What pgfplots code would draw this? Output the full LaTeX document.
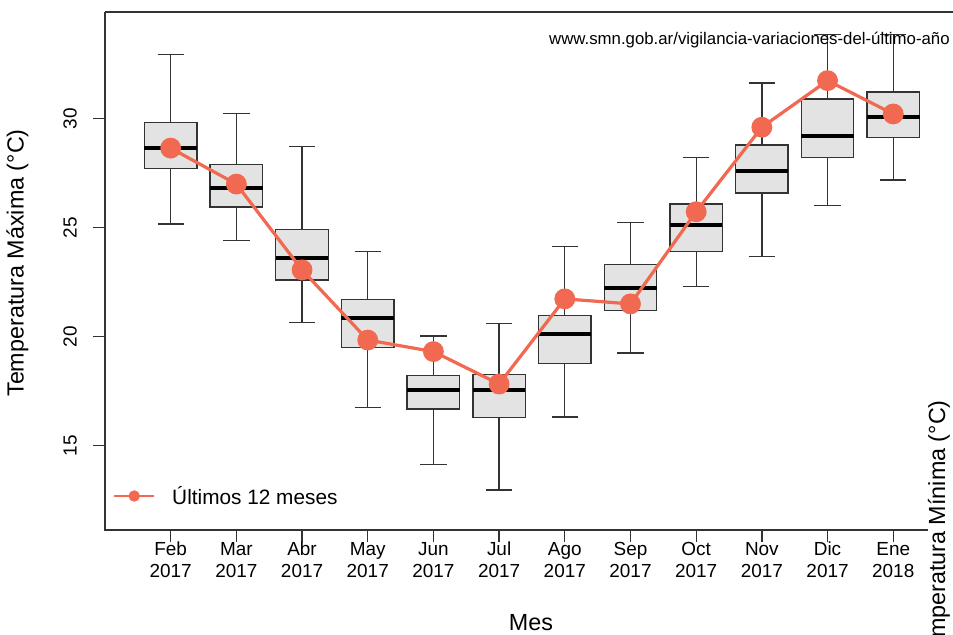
\documentclass[border=0pt]{standalone}
\usepackage{fontspec}
\setmainfont{Liberation Sans}
\usepackage{pgfplots}
\pgfplotsset{compat=1.18}
\usepgfplotslibrary{statistics}

\definecolor{boxfill}{RGB}{227,227,227}
\definecolor{boxline}{RGB}{51,51,51}
\definecolor{ultimo}{RGB}{240,105,80}

\pgfplotsset{
  mes/.style={forget plot, draw=boxline, fill=boxfill, line width=1pt, solid},
}

\begin{document}
\begin{tikzpicture}
\useasboundingbox (0,0) rectangle (714.75pt,476.25pt);
\fill[white] (0,0) rectangle (714.75pt,476.25pt);
\clip (0,0) rectangle (714.75pt,476.25pt);
\begin{axis}[
  at={(78.75pt,78.75pt)}, anchor=south west,
  scale only axis, width=636pt, height=388.5pt,
  xmin=0, xmax=12.91, ymin=11.12, ymax=34.90,
  clip=false,
  boxplot/draw direction=y,
  boxplot/every median/.style={draw=black, line width=3pt},
  boxplot/box extend=0.8, boxplot/whisker extend=0.4,
  separate axis lines, axis line style={draw=none},
  tick pos=left, tick align=outside, major tick length=9pt,
  tick style={boxline, line width=1pt},
  xtick={1,...,12},
  xticklabels={{Feb\\2017},{Mar\\2017},{Abr\\2017},{May\\2017},{Jun\\2017},{Jul\\2017},
    {Ago\\2017},{Sep\\2017},{Oct\\2017},{Nov\\2017},{Dic\\2017},{Ene\\2018}},
  xticklabel style={align=center, anchor=north, inner sep=0pt,
    font=\fontsize{14.2pt}{16.5pt}\selectfont},
  ytick={15,20,25,30},
  yticklabel style={rotate=90, anchor=south, inner sep=0pt, inner ysep=12pt,
    font=\fontsize{14.2pt}{16.5pt}\selectfont},
  /pgf/number format/assume math mode=true,
  legend style={at={(rel axis cs:0.0094,0.0656)}, anchor=west, draw=none, fill=none,
    inner sep=0pt, nodes={inner sep=0pt},
    font=\fontsize{15.6pt}{18pt}\selectfont,
    /tikz/every odd column/.append style={column sep=12.75pt}},
  legend image code/.code={
    \draw[line width=1.5pt] (0pt,0pt) -- (30pt,0pt);
    \fill (15pt,0pt) circle (3pt);},
]
% cajas por mes
\addplot[mes, boxplot prepared={draw position=1, lower whisker=25.16, lower quartile=27.70, median=28.65, upper quartile=29.82, upper whisker=32.94}] coordinates {};
\addplot[mes, boxplot prepared={draw position=2, lower whisker=24.40, lower quartile=25.95, median=26.84, upper quartile=27.91, upper whisker=30.25}] coordinates {};
\addplot[mes, boxplot prepared={draw position=3, lower whisker=20.66, lower quartile=22.60, median=23.59, upper quartile=24.91, upper whisker=28.71}] coordinates {};
\addplot[mes, boxplot prepared={draw position=4, lower whisker=16.75, lower quartile=19.51, median=20.84, upper quartile=21.71, upper whisker=23.90}] coordinates {};
\addplot[mes, boxplot prepared={draw position=5, lower whisker=14.12, lower quartile=16.68, median=17.55, upper quartile=18.20, upper whisker=20.03}] coordinates {};
\addplot[mes, boxplot prepared={draw position=6, lower whisker=12.96, lower quartile=16.29, median=17.55, upper quartile=18.27, upper whisker=20.59}] coordinates {};
\addplot[mes, boxplot prepared={draw position=7, lower whisker=16.31, lower quartile=18.77, median=20.11, upper quartile=20.98, upper whisker=24.13}] coordinates {};
\addplot[mes, boxplot prepared={draw position=8, lower whisker=19.25, lower quartile=21.19, median=22.25, upper quartile=23.32, upper whisker=25.23}] coordinates {};
\addplot[mes, boxplot prepared={draw position=9, lower whisker=22.29, lower quartile=23.92, median=25.12, upper quartile=26.09, upper whisker=28.21}] coordinates {};
\addplot[mes, boxplot prepared={draw position=10, lower whisker=23.69, lower quartile=26.59, median=27.62, upper quartile=28.80, upper whisker=31.64}] coordinates {};
\addplot[mes, boxplot prepared={draw position=11, lower whisker=26.03, lower quartile=28.21, median=29.22, upper quartile=30.91, upper whisker=33.86}] coordinates {};
\addplot[mes, boxplot prepared={draw position=12, lower whisker=27.19, lower quartile=29.15, median=30.10, upper quartile=31.22, upper whisker=33.86}] coordinates {};

% ultimos 12 meses
\addplot[color=ultimo, line width=2.4pt, mark=*, mark size=6.6pt,
  mark options={solid, draw=none, fill=ultimo}] coordinates {
  (1,28.65) (2,27.00) (3,23.06) (4,19.84) (5,19.31) (6,17.82)
  (7,21.73) (8,21.50) (9,25.73) (10,29.61) (11,31.75) (12,30.22)
};
\addlegendentry{Últimos 12 meses}

% marco
\draw[boxline, line width=1pt] (rel axis cs:0,1) -- (rel axis cs:0,0) -- (rel axis cs:0.9706,0);
\draw[boxline, line width=1pt] (rel axis cs:0,1) -- (rel axis cs:1,1);
\end{axis}

\node[anchor=east, font=\fontsize{12.6pt}{14pt}\selectfont, inner sep=0pt] at (712.5pt,446.25pt)
  {www.smn.gob.ar/vigilancia-variaciones-del-último-año};
\node[rotate=90, font=\fontsize{17.5pt}{20pt}\selectfont, inner sep=0pt] at (13pt,279pt)
  {Temperatura Máxima (°C)};
\node[anchor=base, font=\fontsize{17.5pt}{20pt}\selectfont, inner sep=0pt] at (398.25pt,3.2pt) {Mes};
\node[rotate=90, anchor=east, font=\fontsize{17.5pt}{20pt}\selectfont, inner sep=0pt] at (704.25pt,176.25pt)
  {Temperatura Mínima (°C)};
\end{tikzpicture}
\end{document}
